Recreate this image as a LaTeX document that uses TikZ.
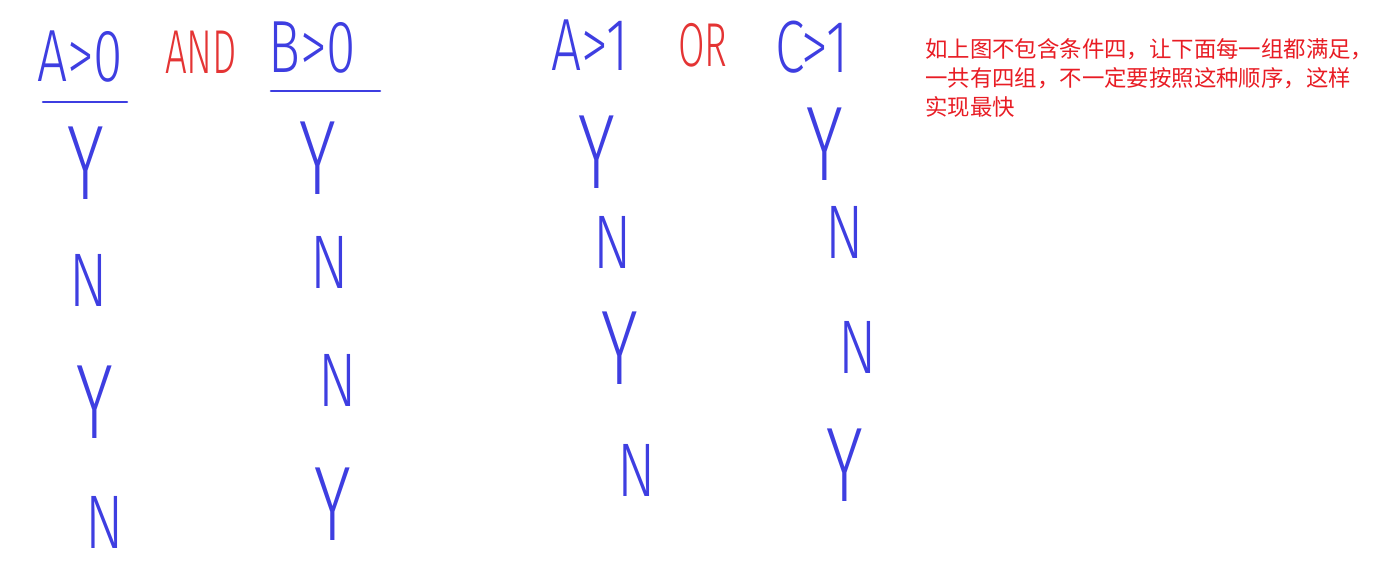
\documentclass[tikz,border=0pt]{standalone}
\usepackage{fontspec}
\setmainfont{Liberation Sans}
\newfontfamily\pen{Fira Sans Light}
\newfontfamily\cjk{Noto Sans CJK SC}
\definecolor{penblue}{RGB}{62,62,225}
\definecolor{penred}{RGB}{228,52,52}
\definecolor{notered}{RGB}{232,28,36}
\begin{document}
\begin{tikzpicture}[x=1pt,y=-1pt,
  pentext/.style={inner sep=0pt, text=penblue},
  ylet/.style={pentext, xscale=0.66, font=\pen\fontsize{106}{106}\selectfont},
  nlet/.style={pentext, xscale=0.75, font=\pen\fontsize{76}{76}\selectfont},
  hdr/.style={pentext, xscale=0.72, font=\pen\fontsize{74}{74}\selectfont},
  op/.style={pentext, text=penred, xscale=0.62, font=\pen\fontsize{62}{62}\selectfont},
  uline/.style={draw=penblue, line width=2.6pt, line cap=round}]
\useasboundingbox (0,0) rectangle (1394,572);
% headers
\node[hdr] (h1) at (80,57) {A>0};
\node[op]  (and) at (201,52) {AND};
\node[hdr] (h2) at (312,48) {B>0};
\node[hdr] (h3) at (590,45) {A>1};
\node[op]  (or) at (703,45) {OR};
\node[hdr] (h4) at (812,47) {C>1};
% underlines
\coordinate (u1a) at (43,102); \coordinate (u1b) at (127,102);
\coordinate (u2a) at (271,91); \coordinate (u2b) at (380,91);
\draw[uline] (u1a) -- (u1b);
\draw[uline] (u2a) -- (u2b);
% column 1
\node[ylet] (c1r1) at (86,163) {Y};
\node[nlet] (c1r2) at (89,280) {N};
\node[ylet] (c1r3) at (95,402) {Y};
\node[nlet] (c1r4) at (105,522) {N};
% column 2
\node[ylet] (c2r1) at (318,158) {Y};
\node[nlet] (c2r2) at (330,262) {N};
\node[nlet] (c2r3) at (338,380) {N};
\node[ylet] (c2r4) at (333,504) {Y};
% column 3
\node[ylet] (c3r1) at (597,152) {Y};
\node[nlet] (c3r2) at (613,242) {N};
\node[ylet] (c3r3) at (620,348) {Y};
\node[nlet] (c3r4) at (637,470) {N};
% column 4
\node[ylet] (c4r1) at (825,144) {Y};
\node[nlet] (c4r2) at (845,232) {N};
\node[nlet] (c4r3) at (858,347) {N};
\node[ylet] (c4r4) at (845,465) {Y};
% note
\node[anchor=north west, inner sep=0pt, text=notered, align=left,
      font=\cjk\fontsize{22.4}{29}\selectfont] (note) at (925,38)
  {如上图不包含条件四，让下面每一组都满足，\\一共有四组，不一定要按照这种顺序，这样\\实现最快};
\end{tikzpicture}
\end{document}
